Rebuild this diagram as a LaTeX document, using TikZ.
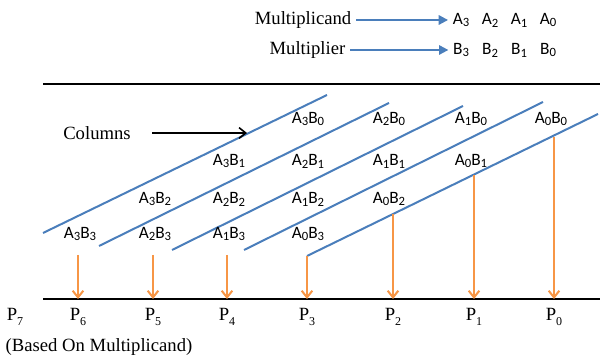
\documentclass[tikz,border=0pt]{standalone}
\usepackage{fontspec}
\setmainfont{Liberation Serif}
\newfontfamily\calibri{Carlito}
\usepackage{tikz}
\usetikzlibrary{arrows.meta,positioning,calc}
\definecolor{lineblue}  {HTML}{4A7EBB}
\definecolor{sumorange} {HTML}{F79646}
\newcommand{\lo}[1]{\raisebox{-0.35ex}{\fontsize{9.5}{9.5}\selectfont #1}}
\newcommand{\plo}[1]{\raisebox{-0.5ex}{\fontsize{9}{9}\selectfont #1}}

\begin{document}
\begin{tikzpicture}[x=0.75pt,y=0.75pt,
    serif/.style={font=\fontsize{14}{16}\selectfont},
    bit/.style={font=\calibri\fontsize{13}{15}\selectfont}]
  \useasboundingbox (0,0) rectangle (600,356);
  % operands
  \node[serif, anchor=east] (mcand)  at (356,336) {Multiplicand};
  \node[serif, anchor=east] (mplier) at (350,306) {Multiplier};
  \foreach \i/\x in {3/461,2/490,1/519,0/548} {
    \node[bit] (a\i) at (\x,336) {A\lo{\i}};
    \node[bit] (b\i) at (\x,306) {B\lo{\i}};
  }
  \draw[lineblue, line width=1.5pt, -{Triangle[length=7pt,width=7pt]}] (mcand) -- (a3);
  \draw[lineblue, line width=1.5pt, -{Triangle[length=7pt,width=7pt]}] (mplier) -- (b3);
  % frame lines
  \coordinate (baseL) at (43,57);
  \coordinate (baseR) at (600,57);
  \draw[black, line width=2pt] (43,272) -- (600,272);
  \draw[black, line width=2pt] (baseL) -- (baseR);
  % column separators
  \foreach \sx/\sy/\ex/\ey in {43/123/327/261, 99/110/389/253, 172/106/463/250,
                               244/106/543/254, 307/100/598/242}
    \draw[lineblue, line width=1.5pt] (\sx,\sy) -- (\ex,\ey);
  \node[serif] (cols) at (97,223) {Columns};
  \coordinate (colsTip) at (247,223);
  \draw[black, line width=1.2pt, shorten <=12.75pt, -{Straight Barb[length=5pt,width=8pt]}] (cols.east) -- (colsTip);
  % partial products
  \foreach \i in {0,...,3}
    \foreach \j in {0,...,3} {
      \pgfmathsetmacro\cx{{80,155,229,308,389,471,551}[6-\i-\j]}
      \pgfmathsetmacro\cy{{237,195,157,122}[\j]}
      \node[bit] (pp\i\j) at (\cx,\cy) {A\lo{\i}B\lo{\j}};
    }
  % product bits
  \foreach \k/\x in {7/15,6/78,5/153,4/227,3/307,2/393,1/474,0/554}
    \node[serif] (p\k) at (\x,39) {P\plo{\k}};
  \foreach \k/\x/\y in {6/78/101,5/153/101,4/227/101,3/307/100,2/393/142,1/474/181,0/554/219} {
    \coordinate (top\k) at (\x,\y);
    \draw[sumorange, line width=1.5pt, -{Straight Barb[length=5pt,width=8pt]}] (top\k) -- (top\k |- baseL);
  }
  \node[serif, anchor=west] (basis) at (1,9) {(Based On Multiplicand)};
\end{tikzpicture}
\end{document}
